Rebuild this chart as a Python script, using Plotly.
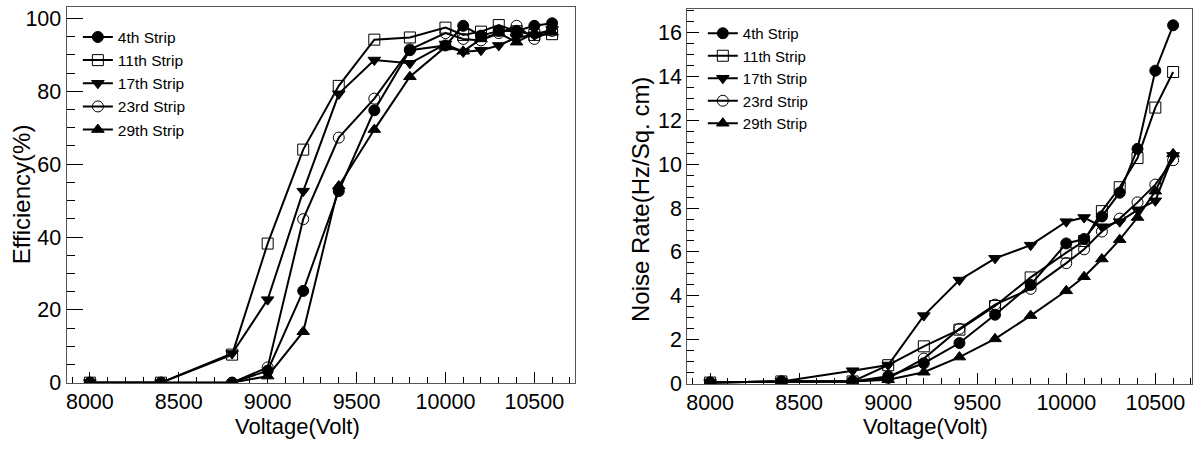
import plotly.graph_objects as go

voltage = [8000, 8400, 8800, 9000, 9200, 9400, 9600, 9800, 10000, 10100, 10200, 10300, 10400, 10500, 10600]
strip_names = ["4th Strip", "11th Strip", "17th Strip", "23rd Strip", "29th Strip"]

eff_4th = [0, 0, 0, 3.3, 25.2, 52.6, 74.8, 91.3, 92.6, 98.0, 95.3, 96.6, 96.6, 98.0, 98.7]
eff_11th = [0, 0, 7.7, 38.2, 64.0, 81.5, 94.2, 94.8, 97.5, 95.5, 96.4, 98.2, 96.5, 95.5, 95.7]
eff_17th = [0, 0, 8.0, 22.8, 52.6, 79.3, 88.6, 87.7, 93.0, 90.8, 91.3, 92.6, 94.8, 95.5, 97.0]
eff_23rd = [0, 0, 0, 4.2, 44.9, 67.3, 78.0, 91.5, 96.0, 94.4, 94.0, 96.0, 98.0, 94.4, 96.6]
eff_29th = [0, 0, 0, 1.8, 14.0, 54.0, 69.5, 84.0, 92.2, 91.0, 94.4, 96.0, 93.5, 96.0, 96.2]

noise_4th = [0.05, 0.1, 0.1, 0.34, 0.93, 1.85, 3.14, 4.5, 6.39, 6.59, 7.62, 8.7, 10.7, 14.26, 16.33]
noise_11th = [0.05, 0.1, 0.1, 0.84, 1.7, 2.46, 3.54, 4.84, 5.97, 6.5, 7.86, 8.95, 10.28, 12.58, 14.2]
noise_17th = [0.05, 0.1, 0.59, 0.85, 3.1, 4.72, 5.71, 6.31, 7.38, 7.57, 7.15, 7.38, 7.92, 8.33, 10.4]
noise_23rd = [0.05, 0.1, 0.1, 0.25, 1.14, 2.5, 3.6, 4.32, 5.49, 6.12, 6.93, 7.52, 8.26, 9.07, 10.18]
noise_29th = [0.05, 0.1, 0.1, 0.18, 0.52, 1.21, 2.04, 3.1, 4.23, 4.87, 5.68, 6.56, 7.57, 8.77, 10.47]

x_tick_vals = [8000, 8500, 9000, 9500, 10000, 10500]
eff_tick_vals = [0, 20, 40, 60, 80, 100]
noise_tick_vals = [0, 2, 4, 6, 8, 10, 12, 14, 16]

eff_series = [eff_4th, eff_11th, eff_17th, eff_23rd, eff_29th]
noise_series = [noise_4th, noise_11th, noise_17th, noise_23rd, noise_29th]
symbols = ["circle", "square-open", "triangle-down", "circle-open", "triangle-up"]

FONT = "Liberation Sans"
W, H = 1193, 452

fig = go.Figure()
for name, vals, sym in zip(strip_names, eff_series, symbols):
    fig.add_trace(go.Scatter(
        x=voltage, y=vals, name=name, mode="lines+markers",
        line=dict(color="black", width=2),
        marker=dict(symbol=sym, size=11, color="black", line=dict(color="black", width=1)),
        xaxis="x", yaxis="y", legend="legend"))
for name, vals, sym in zip(strip_names, noise_series, symbols):
    fig.add_trace(go.Scatter(
        x=voltage, y=vals, name=name, mode="lines+markers",
        line=dict(color="black", width=2),
        marker=dict(symbol=sym, size=11, color="black", line=dict(color="black", width=1)),
        xaxis="x2", yaxis="y2", legend="legend2"))

axis_common = dict(showgrid=False, zeroline=False, showline=True, linecolor="#555555",
                   linewidth=1, mirror=True, ticks="inside", tickcolor="black",
                   tickformat="d",
                   tickfont=dict(family=FONT, size=21.5, color="black"))

xl = dict(axis_common, range=[7869, 10729], tickvals=x_tick_vals,
          ticklen=11, minor=dict(dtick=100, tick0=8000, ticklen=6, ticks="inside", tickcolor="black"),
          domain=[65.7 / W, 575 / W], anchor="y")
yl = dict(axis_common, range=[0, 103.3], tickvals=eff_tick_vals, ticklen=16,
          minor=dict(dtick=5, tick0=0, ticklen=8, ticks="inside", tickcolor="black"),
          domain=[(H - 394) / H, (H - 6.7) / H], anchor="x")
xr = dict(axis_common, range=[7871, 10706], tickvals=x_tick_vals,
          ticklen=11, minor=dict(dtick=100, tick0=8000, ticklen=6, ticks="inside", tickcolor="black"),
          domain=[687.3 / W, 1.0], anchor="y2")
yr = dict(axis_common, range=[0, 17.07], tickvals=noise_tick_vals, ticklen=12,
          minor=dict(dtick=0.5, tick0=0, ticklen=7, ticks="inside", tickcolor="black"),
          domain=[(H - 395) / H, (H - 9.3) / H], anchor="x2")

legend_common = dict(bgcolor="rgba(0,0,0,0)", borderwidth=0, xanchor="left", yanchor="top",
                     tracegroupgap=0)

fig.update_layout(
    width=W, height=H, margin=dict(l=0, r=0, t=0, b=0),
    paper_bgcolor="white", plot_bgcolor="white",
    xaxis=xl, yaxis=yl, xaxis2=xr, yaxis2=yr,
    legend=dict(legend_common, x=77 / W, y=(H - 21) / H,
                font=dict(family=FONT, size=15.5, color="black")),
    legend2=dict(legend_common, x=703 / W, y=(H - 17.5) / H,
                 font=dict(family=FONT, size=15, color="black")),
    annotations=[
        dict(text="Voltage(Volt)", x=296.5 / W, y=(H - 439.5) / H, xref="paper", yref="paper",
             showarrow=False, xanchor="center", yanchor="middle",
             font=dict(family=FONT, size=22, color="black")),
        dict(text="Voltage(Volt)", x=925.7 / W, y=(H - 439.5) / H, xref="paper", yref="paper",
             showarrow=False, xanchor="center", yanchor="middle",
             font=dict(family=FONT, size=22, color="black")),
        dict(text="Efficiency(%)", x=20 / W, y=(H - 200) / H, xref="paper", yref="paper",
             showarrow=False, xanchor="center", yanchor="middle", textangle=-90,
             font=dict(family=FONT, size=24, color="black")),
        dict(text="Noise Rate(Hz/Sq. cm)", x=640 / W, y=(H - 205) / H, xref="paper", yref="paper",
             showarrow=False, xanchor="center", yanchor="middle", textangle=-90,
             font=dict(family=FONT, size=24, color="black")),
    ],
)

fig.write_html("out.html", config={"displayModeBar": False},
               post_script="document.body.style.margin='0';")
